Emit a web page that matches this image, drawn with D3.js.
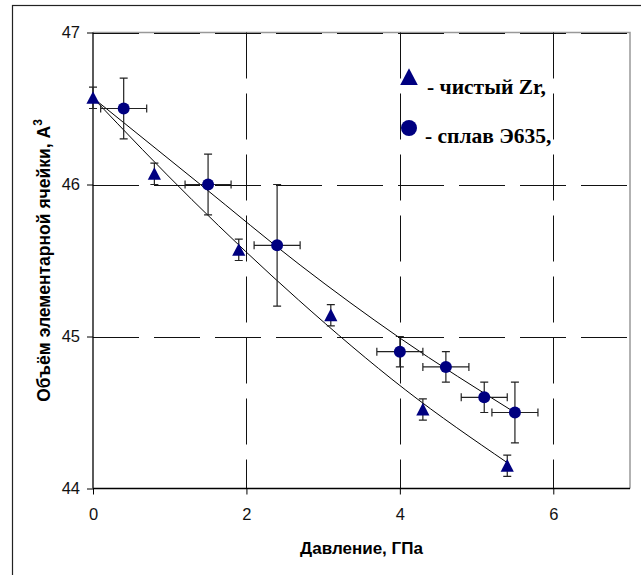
<!DOCTYPE html>
<html>
<head>
<meta charset="utf-8">
<script src="https://cdn.jsdelivr.net/npm/d3@7"></script>
<style>
  html, body { margin: 0; padding: 0; background: #fff; }
  svg { display: block; }
</style>
</head>
<body>
<svg id="chart" width="641" height="575"></svg>
<script>
// Pure zirconium: pressure (GPa), unit-cell volume (Å^3), volume error
const zrPressure  = [0, 0.8, 1.9, 3.1, 4.3, 5.4];
const zrVolume    = [46.57, 46.07, 45.57, 45.14, 44.52, 44.15];
const zrVolumeErr = [0.07, 0.07, 0.07, 0.07, 0.07, 0.07];

// Alloy E635: pressure, volume and both errors
const alloyPressure    = [0.4, 1.5, 2.4, 4.0, 4.6, 5.1, 5.5];
const alloyVolume      = [46.5, 46.0, 45.6, 44.9, 44.8, 44.6, 44.5];
const alloyPressureErr = [0.3, 0.3, 0.3, 0.3, 0.3, 0.3, 0.3];
const alloyVolumeErr   = [0.2, 0.2, 0.4, 0.1, 0.1, 0.1, 0.2];

// Trend curves for both series
const zrFitPressure    = [0, 1.29, 2.68, 4.07, 5.4];
const zrFitVolume      = [46.57, 45.90, 45.24, 44.65, 44.17];
const alloyFitPressure = [0, 1.4, 2.7, 4.0, 5.5];
const alloyFitVolume   = [46.57, 46.0, 45.47, 44.99, 44.5];

// Axis ticks
const xTicks = [0, 2, 4, 6];
const yTicks = [44, 45, 46, 47];

const legendLabels = ["- чистый Zr,", "- сплав Э635,"];
const xTitle = "Давление, ГПа";
const yTitle = "Объём элементарной ячейки, А";

const svg = d3.select("#chart");
const navy = "#000080";

const x = d3.scaleLinear().domain([0, 7]).range([93, 630]);
const y = d3.scaleLinear().domain([44, 47]).range([488.5, 32.5]);

// Outer frame
svg.append("rect")
  .attr("x", 12.5).attr("y", 5.5)
  .attr("width", 700).attr("height", 700)
  .attr("fill", "none").attr("stroke", "#222").attr("stroke-width", 1.2);

// Plot-area border (top and right)
svg.append("path")
  .attr("d", `M${x(0)},${y(47)}H${x(7)}V${y(44)}`)
  .attr("fill", "none").attr("stroke", "#999").attr("stroke-width", 1.5);

// Dashed grid
const grid = svg.append("g").attr("stroke", "#111").attr("stroke-width", 1)
  .attr("stroke-dasharray", "46,15").attr("fill", "none");
xTicks.filter(d => d > 0).forEach(d => {
  grid.append("line")
    .attr("x1", Math.round(x(d)) + 0.5).attr("x2", Math.round(x(d)) + 0.5)
    .attr("y1", y(47)).attr("y2", y(44));
});
yTicks.filter(d => d > 44).forEach(d => {
  grid.append("line")
    .attr("x1", x(0)).attr("x2", x(7))
    .attr("y1", Math.round(y(d)) + 0.5).attr("y2", Math.round(y(d)) + 0.5);
});

// Axes
const fontSans = "'Liberation Sans', Arial, sans-serif";
const xAxis = svg.append("g")
  .attr("transform", `translate(0,${y(44)})`)
  .call(d3.axisBottom(x).tickValues(xTicks).tickFormat(d3.format("d"))
    .tickSize(6).tickPadding(14).tickSizeOuter(0));
const yAxis = svg.append("g")
  .attr("transform", `translate(${x(0)},0)`)
  .call(d3.axisLeft(y).tickValues(yTicks).tickFormat(d3.format("d"))
    .tickSize(6).tickPadding(7).tickSizeOuter(0));
[xAxis, yAxis].forEach(a => {
  a.select(".domain").attr("stroke", "#000").attr("stroke-width", 1.3);
  a.selectAll(".tick line").attr("stroke", "#000");
  a.selectAll(".tick text").attr("font-family", fontSans).attr("font-size", 16.5).attr("fill", "#111");
});
xAxis.select(".domain").attr("d", `M${x(0)},0H${x(7)}`);
yAxis.select(".domain").attr("d", `M0,${y(44)}V${y(47)}`);

// Trend curves
const line = d3.line().x(d => x(d[0])).y(d => y(d[1])).curve(d3.curveMonotoneX);
svg.append("path")
  .datum(zrFitPressure.map((p, i) => [p, zrFitVolume[i]]))
  .attr("d", line).attr("fill", "none").attr("stroke", "#000").attr("stroke-width", 1);
svg.append("path")
  .datum(alloyFitPressure.map((p, i) => [p, alloyFitVolume[i]]))
  .attr("d", line).attr("fill", "none").attr("stroke", "#000").attr("stroke-width", 1);

// Error bars
const err = svg.append("g").attr("stroke", "#222").attr("stroke-width", 1.2).attr("fill", "none");
const cap = 4;
function vBar(px, v, e) {
  const cx = x(px), y1 = y(v + e), y2 = y(v - e);
  err.append("path").attr("d",
    `M${cx},${y1}V${y2}M${cx - cap},${y1}H${cx + cap}M${cx - cap},${y2}H${cx + cap}`);
}
function hBar(px, v, e) {
  const cy = y(v), x1 = x(px - e), x2 = x(px + e);
  err.append("path").attr("d",
    `M${x1},${cy}H${x2}M${x1},${cy - cap}V${cy + cap}M${x2},${cy - cap}V${cy + cap}`);
}
zrPressure.forEach((p, i) => vBar(p, zrVolume[i], zrVolumeErr[i]));
alloyPressure.forEach((p, i) => {
  vBar(p, alloyVolume[i], alloyVolumeErr[i]);
  hBar(p, alloyVolume[i], alloyPressureErr[i]);
});

// Markers
const tri = (s) => `M0,${-s * 0.55}L${s * 0.55},${s * 0.5}L${-s * 0.55},${s * 0.5}Z`;
svg.append("g").selectAll("path").data(zrPressure).join("path")
  .attr("transform", (p, i) => `translate(${x(p)},${y(zrVolume[i])})`)
  .attr("d", tri(12)).attr("fill", navy);
svg.append("g").selectAll("circle").data(alloyPressure).join("circle")
  .attr("cx", p => x(p)).attr("cy", (p, i) => y(alloyVolume[i]))
  .attr("r", 6).attr("fill", navy);

// Legend
const fontSerif = "'Liberation Serif', 'Times New Roman', serif";
svg.append("path").attr("transform", "translate(409,77)").attr("d", tri(16)).attr("fill", navy);
svg.append("circle").attr("cx", 409).attr("cy", 128).attr("r", 8).attr("fill", navy);
svg.append("text").attr("x", 427).attr("y", 94)
  .attr("font-family", fontSerif).attr("font-weight", "bold").attr("font-size", 21.5)
  .text(legendLabels[0]);
svg.append("text").attr("x", 425).attr("y", 143)
  .attr("font-family", fontSerif).attr("font-weight", "bold").attr("font-size", 21.5)
  .text(legendLabels[1]);

// Axis titles
svg.append("text")
  .attr("x", (x(0) + x(7)) / 2).attr("y", 554)
  .attr("text-anchor", "middle")
  .attr("font-family", fontSans).attr("font-weight", "bold").attr("font-size", 17)
  .text(xTitle);
const yt = svg.append("text")
  .attr("transform", `translate(50,${(y(44) + y(47)) / 2}) rotate(-90)`)
  .attr("text-anchor", "middle")
  .attr("font-family", fontSans).attr("font-weight", "bold").attr("font-size", 17.5);
yt.append("tspan").text(yTitle);
yt.append("tspan").attr("dy", -8).attr("font-size", 12).text("3");
</script>
</body>
</html>
